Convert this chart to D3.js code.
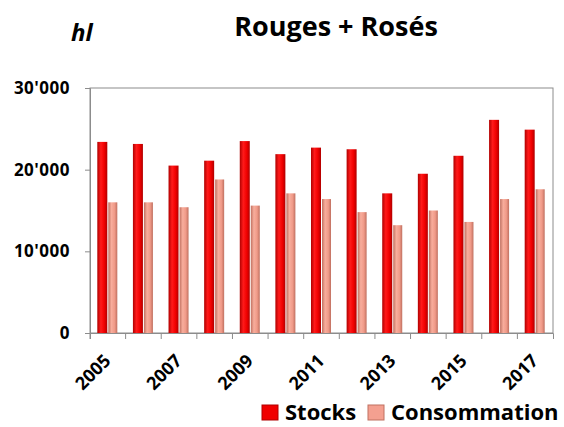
<!DOCTYPE html>
<html>
<head lang="fr">
    <meta charset="UTF-8">
    <title>Rouges + Rosés</title>
    <script src="https://cdn.jsdelivr.net/npm/d3@7"></script>
    <style>
        body{margin:0;background:#fff;}
        text{font-family:"Open Sans",Lato,sans-serif;font-weight:bold;fill:#000;}
    </style>
</head>
<body>
<script>
    var years=["2005","2006","2007","2008","2009","2010","2011","2012","2013","2014","2015","2016","2017"];
    var stocks=[23400,23150,20500,21100,23500,21900,22700,22500,17100,19500,21700,26100,24900];
    var consommation=[16000,16000,15400,18800,15600,17100,16400,14800,13200,15000,13600,16400,17600];
    var yTicks=[0,10000,20000,30000];
    var seriesNames=["Stocks","Consommation"];

    var W=564,H=427;
    var m={left:90,right:11,top:88,bottom:94};
    var svg=d3.select("body").append("svg").attr("width",W).attr("height",H);

    //gradients for the 3d look
    var defs=svg.append("defs");
    function grad(id,edge,mid,hi){
        var g=defs.append("linearGradient").attr("id",id).attr("x1","0").attr("x2","1").attr("y1","0").attr("y2","0");
        g.append("stop").attr("offset","0%").attr("stop-color",edge);
        g.append("stop").attr("offset","35%").attr("stop-color",hi);
        g.append("stop").attr("offset","70%").attr("stop-color",mid);
        g.append("stop").attr("offset","100%").attr("stop-color",edge);
    }
    grad("gStock","#b00000","#f00000","#ff1a1a");
    grad("gCons","#c07060","#f09a88","#f8ad9c");

    var x=d3.scaleBand().domain(years).range([m.left,W-m.right]);
    var y=d3.scaleLinear().domain([0,30000]).range([H-m.bottom,m.top]);
    var barW=10;

    //plot frame
    svg.append("rect").attr("x",m.left).attr("y",m.top)
        .attr("width",W-m.right-m.left).attr("height",H-m.bottom-m.top)
        .attr("fill","none").attr("stroke","#8c8c8c").attr("stroke-width",1);

    var g=svg.selectAll(".yr").data(years).enter().append("g")
        .attr("transform",function(d){return "translate("+(x(d)+x.bandwidth()/2)+",0)";});
    g.append("rect").attr("x",-barW-0.5).attr("width",barW)
        .attr("y",function(d,i){return y(stocks[i]);})
        .attr("height",function(d,i){return y(0)-y(stocks[i]);})
        .attr("fill","url(#gStock)");
    g.append("rect").attr("x",0.5).attr("width",barW-1)
        .attr("y",function(d,i){return y(consommation[i]);})
        .attr("height",function(d,i){return y(0)-y(consommation[i]);})
        .attr("fill","url(#gCons)");

    //axes
    var yAxis=d3.axisLeft(y).tickValues(yTicks).tickSize(5).tickPadding(15)
        .tickFormat(function(d){return d===0?"0":d3.format(",")(d).replace(/,/g,"'");});
    var ya=svg.append("g").attr("transform","translate("+m.left+",0)").call(yAxis);
    ya.select(".domain").attr("stroke","#8c8c8c");
    ya.selectAll("line").attr("stroke","#8c8c8c");
    ya.selectAll("text").style("font-size","17px").style("letter-spacing","0.5px");

    var xAxis=d3.axisBottom(x).tickSize(6).tickFormat(function(d,i){return i%2===0?d:"";});
    var xa=svg.append("g").attr("transform","translate(0,"+(H-m.bottom)+")").call(xAxis);
    xa.select(".domain").attr("stroke","#8c8c8c");
    xa.selectAll(".tick line").attr("stroke","#8c8c8c")
        .attr("transform","translate("+(-x.bandwidth()/2)+",0)");
    xa.selectAll("text").style("font-size","18px").attr("text-anchor","end")
        .attr("dy","0").attr("y","0")
        .attr("transform","translate(4,29) rotate(-45)");

    //titles
    svg.append("text").attr("x",336).attr("y",36).attr("text-anchor","middle")
        .style("font-size","27px").text("Rouges + Rosés");
    svg.append("text").attr("x",71).attr("y",41).style("font-size","24px")
        .style("font-style","italic").text("hl");

    //legend
    var lg=svg.append("g").attr("transform","translate(262,405)");
    var lx=[0,106];
    seriesNames.forEach(function(s,i){
        lg.append("rect").attr("x",lx[i]).attr("y",0).attr("width",16).attr("height",15)
            .attr("fill",i===0?"#f00000":"#f4a090").attr("stroke",i===0?"#b00000":"#c07060");
        lg.append("text").attr("x",lx[i]+23).attr("y",15).style("font-size","22px").text(s);
    });
</script>
</body>
</html>
